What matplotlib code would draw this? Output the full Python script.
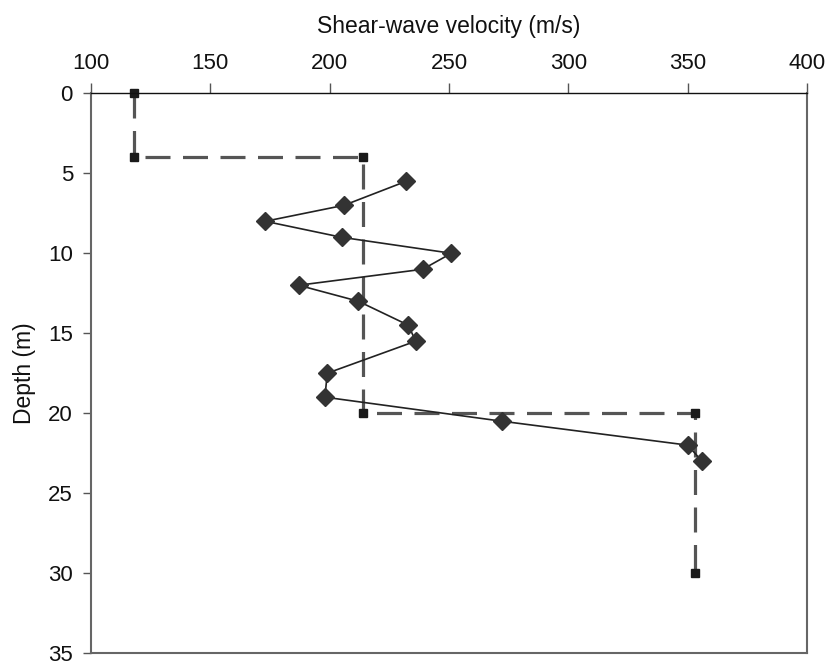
import matplotlib
matplotlib.use("Agg")
import matplotlib.pyplot as plt
from matplotlib import font_manager

# Measured profile (diamonds)
velocity = [232, 206, 173, 205, 251, 239, 187, 212, 233, 236, 199, 198, 272, 350, 356]
depth = [5.5, 7, 8, 9, 10, 11, 12, 13, 14.5, 15.5, 17.5, 19, 20.5, 22, 23]

# Layered model (dashed step)
step_velocity = [118, 118, 214, 214, 353, 353]
step_depth = [0, 4, 4, 20, 20, 30]

x_ticks = [100, 150, 200, 250, 300, 350, 400]
y_ticks = [0, 5, 10, 15, 20, 25, 30, 35]

names = {f.name for f in font_manager.fontManager.ttflist}
base = "Liberation Sans" if "Liberation Sans" in names else "DejaVu Sans"

plt.rcParams["font.family"] = [base, "DejaVu Sans"]
plt.rcParams["lines.scale_dashes"] = False

fig = plt.figure(figsize=(8.38, 6.67), dpi=100)
ax = fig.add_axes([0.1086, 0.021, 0.8544, 0.839])

ax.plot(step_velocity, step_depth, color="#555555", lw=2.3,
        linestyle=(0, (18, 9)), marker="s", markersize=5.5,
        markerfacecolor="#1a1a1a", markeredgecolor="#1a1a1a", zorder=2,
        clip_on=False)
ax.plot(velocity, depth, color="#222222", lw=1.2, marker="D", markersize=9,
        markerfacecolor="#333333", markeredgecolor="#333333", zorder=3)

ax.set_xlim(100, 400)
ax.set_ylim(35, 0)
ax.xaxis.tick_top()
ax.xaxis.set_label_position("top")
ax.set_xticks(x_ticks)
ax.set_yticks(y_ticks)
ax.set_xticklabels([str(v) for v in x_ticks])
ax.set_yticklabels([str(v) for v in y_ticks])

ax.tick_params(axis="x", direction="out", length=7, width=1.0, color="#555555",
               labelsize=16, pad=7, labelcolor="#111111")
ax.tick_params(axis="y", direction="out", length=6, width=1.0, color="#555555",
               labelsize=16, pad=7, labelcolor="#111111")

for side in ["left", "right", "bottom"]:
    ax.spines[side].set_color("#666666")
    ax.spines[side].set_linewidth(1.5)
ax.spines["top"].set_color("#111111")
ax.spines["top"].set_linewidth(1.0)

ax.set_xlabel("Shear-wave velocity (m/s)", fontsize=16.5, labelpad=14,
              color="#111111")
ax.set_ylabel("Depth (m)", fontsize=16.5, labelpad=9, color="#111111")

fig.savefig("out.png", dpi=100)
